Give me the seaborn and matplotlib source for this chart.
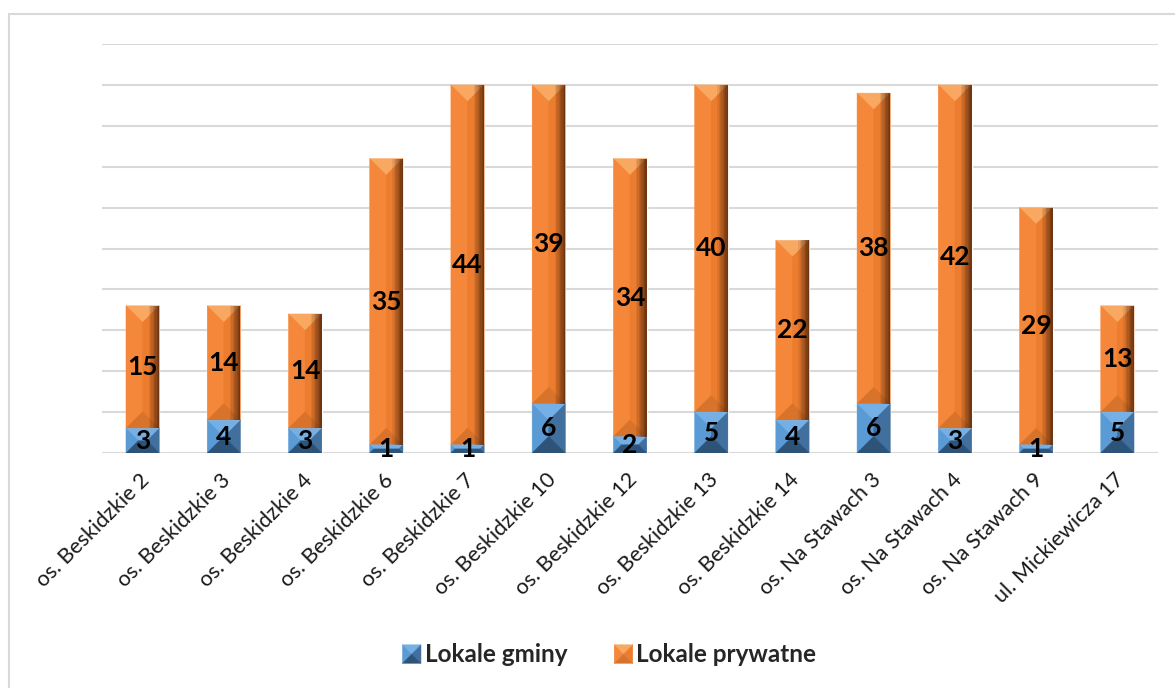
import numpy as np
import matplotlib
matplotlib.use('Agg')
import matplotlib.pyplot as plt
from matplotlib.patches import Polygon, Rectangle
from matplotlib.legend_handler import HandlerBase
import matplotlib.transforms as mtransforms
import seaborn as sns

categories = ['os. Beskidzkie 2', 'os. Beskidzkie 3', 'os. Beskidzkie 4', 'os. Beskidzkie 6',
              'os. Beskidzkie 7', 'os. Beskidzkie 10', 'os. Beskidzkie 12', 'os. Beskidzkie 13',
              'os. Beskidzkie 14', 'os. Na Stawach 3', 'os. Na Stawach 4', 'os. Na Stawach 9',
              'ul. Mickiewicza 17']
lokale_gminy = [3, 4, 3, 1, 1, 6, 2, 5, 4, 6, 3, 1, 5]
lokale_prywatne = [15, 14, 14, 35, 44, 39, 34, 40, 22, 38, 42, 29, 13]
series_names = ['Lokale gminy', 'Lokale prywatne']

sns.set_style('white')
plt.rcParams['font.family'] = ['Lato', 'DejaVu Sans']

# face colours: top, left, right, bottom
blue_cols = ['#74B0E6', '#5B9BD5', '#41709F', '#2E5378']
orange_cols = ['#F9A862', '#F5873A', '#EC7D2F', '#D8732B']

fig, ax = plt.subplots(figsize=(11.75, 6.88), dpi=100)
fig.subplots_adjust(left=102 / 1175, right=1158 / 1175, bottom=1 - 453 / 688, top=1 - 44 / 688)

totals = [g + p for g, p in zip(lokale_gminy, lokale_prywatne)]
sns.barplot(x=categories, y=totals, color=orange_cols[1], width=0.41, ax=ax, saturation=1)
sns.barplot(x=categories, y=lokale_gminy, color=blue_cols[1], width=0.41, ax=ax, saturation=1)

ax.set_ylim(0, 50)
ax.set_xlim(-0.5, len(categories) - 0.5)
ax.set_yticks(np.arange(0, 51, 5))
ax.set_yticklabels([])
ax.tick_params(axis='both', length=0)
ax.grid(axis='y', color='#D9D9D9', linewidth=1.5)
ax.set_axisbelow(True)
sns.despine(ax=ax, left=True, bottom=True)

n = len(categories)
orange_bars = ax.patches[:n]
blue_bars = ax.patches[n:2 * n]
# orange segment sits on top of the blue one
for p, g, pr in zip(orange_bars, lokale_gminy, lokale_prywatne):
    p.set_y(g)
    p.set_height(pr)

# pixel scale for the bevel shapes
sx = ax.transData.transform((1, 0))[0] - ax.transData.transform((0, 0))[0]
sy = ax.transData.transform((0, 1))[1] - ax.transData.transform((0, 0))[1]


def bevel(patch, cols, shade=False):
    x0, y0 = patch.get_x(), patch.get_y()
    w, h = patch.get_width(), patch.get_height()
    x1, y1 = x0 + w, y0 + h
    d = min(w * sx / 2, h * sy / 2)
    dx, dy = d / sx, d / sy
    ix0, ix1, iy0, iy1 = x0 + dx, x1 - dx, y0 + dy, y1 - dy
    faces = [
        [(x0, y1), (x1, y1), (ix1, iy1), (ix0, iy1)],
        [(x0, y0), (x0, y1), (ix0, iy1), (ix0, iy0)],
        [(x1, y0), (x1, y1), (ix1, iy1), (ix1, iy0)],
        [(x0, y0), (x1, y0), (ix1, iy0), (ix0, iy0)],
    ]
    for pts, c in zip(faces, cols):
        ax.add_patch(Polygon(pts, closed=True, facecolor=c, edgecolor=c, linewidth=0.3, zorder=2.5))
    if shade:
        steps = 8
        sw = w * 0.32 / steps
        for k in range(steps):
            ax.add_patch(Rectangle((x1 - w * 0.32 + k * sw, y0), sw, h, facecolor='#3E1A05',
                                   edgecolor='none', alpha=0.09 * (k + 1), zorder=2.6))


for p in orange_bars:
    bevel(p, orange_cols, shade=True)
for p in blue_bars:
    bevel(p, blue_cols)

ax.bar_label(ax.containers[0], labels=[str(v) for v in lokale_prywatne], label_type='center',
             fontsize=19, fontweight='bold', color='black', zorder=5)
ax.bar_label(ax.containers[1], labels=[str(v) for v in lokale_gminy], label_type='center',
             fontsize=19, fontweight='bold', color='black', zorder=5)

offset = mtransforms.ScaledTranslation(4 / 100, -19 / 100, fig.dpi_scale_trans)
ax.set_xticks(range(n))
ax.set_xticklabels(categories, rotation=45, ha='right', va='center', rotation_mode='anchor',
                   fontsize=15.5, color='#1a1a1a')
for lbl in ax.get_xticklabels():
    lbl.set_transform(lbl.get_transform() + offset)


class BevelHandler(HandlerBase):
    def __init__(self, cols):
        super().__init__()
        self.cols = cols

    def create_artists(self, legend, orig_handle, xdescent, ydescent, width, height, fontsize, trans):
        s = height * 1.0
        x0 = -xdescent + width - s
        y0 = -ydescent + (height - s) / 2
        cx, cy = x0 + s / 2, y0 + s / 2
        pts = [
            [(x0, y0 + s), (x0 + s, y0 + s), (cx, cy)],
            [(x0, y0), (x0, y0 + s), (cx, cy)],
            [(x0 + s, y0), (x0 + s, y0 + s), (cx, cy)],
            [(x0, y0), (x0 + s, y0), (cx, cy)],
        ]
        return [Polygon(p, closed=True, facecolor=c, edgecolor=c, linewidth=0.3, transform=trans)
                for p, c in zip(pts, self.cols)]


h_blue = Rectangle((0, 0), 1, 1)
h_orange = Rectangle((0, 0), 1, 1)
leg = ax.legend([h_blue, h_orange], series_names, ncol=2, frameon=False,
                loc='center', bbox_to_anchor=(609 / 1175, 1 - 655 / 688),
                bbox_transform=fig.transFigure,
                prop={'family': 'Lato', 'weight': 'bold', 'size': 17.5},
                handlelength=0.8, handleheight=0.8, handletextpad=0.15, columnspacing=1.9,
                handler_map={h_blue: BevelHandler(blue_cols), h_orange: BevelHandler(orange_cols)})

fig.patches.append(Rectangle((8.5 / 1175, -0.1), 1.2, 1.1 - 14 / 688, transform=fig.transFigure,
                             facecolor='none', edgecolor='#D9D9D9', linewidth=1.5, zorder=0))

fig.savefig('out.png', dpi=100)
